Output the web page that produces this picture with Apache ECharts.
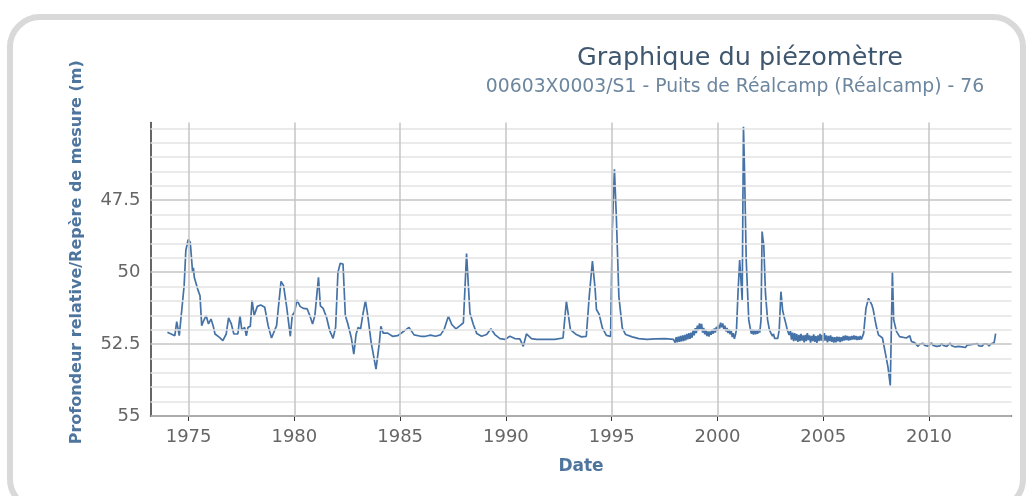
<!DOCTYPE html>
<html>
<head>
<meta charset="utf-8">
<script src="https://cdn.jsdelivr.net/npm/echarts@6/dist/echarts.min.js"></script>
<style>
  html, body { margin: 0; padding: 0; background: #fff; }
  #chart { width: 1033px; height: 496px; }
</style>
</head>
<body>
<div id="chart"></div>
<script>
// graduations des axes
const anneesGraduees = [1975, 1980, 1985, 1990, 1995, 2000, 2005, 2010]
const niveauxGradues = [47.5, 50, 52.5, 55]
const lignesMineures = [45, 45.5, 46, 46.5, 47, 48, 48.5, 49, 49.5, 50.5, 51, 51.5, 52, 53, 53.5, 54, 54.5]
const lignesMajeures = [47.5, 50, 52.5, 55]

// mesures [année décimale, profondeur (m)]
const mesures1974_1997 = [
  [1974.0, 52.09], [1974.35, 52.21], [1974.44, 51.72], [1974.56, 52.21], [1974.63, 52.23], [1974.79, 50.47],
  [1974.87, 49.25], [1974.98, 48.87], [1975.08, 48.96], [1975.19, 50.01], [1975.23, 49.85], [1975.27, 50.18],
  [1975.43, 50.59], [1975.54, 50.82], [1975.62, 51.86], [1975.71, 51.69], [1975.83, 51.51], [1975.94, 51.8],
  [1976.06, 51.63], [1976.16, 51.86], [1976.25, 52.15], [1976.46, 52.27], [1976.62, 52.38], [1976.78, 52.15],
  [1976.89, 51.59], [1977.02, 51.8], [1977.14, 52.15], [1977.33, 52.15], [1977.43, 51.51], [1977.52, 52.03],
  [1977.65, 51.92], [1977.73, 52.21], [1977.81, 51.92], [1977.92, 51.88], [1978.0, 50.97], [1978.1, 51.51],
  [1978.25, 51.19], [1978.41, 51.14], [1978.6, 51.22], [1978.76, 51.86], [1978.92, 52.29], [1979.16, 51.86],
  [1979.37, 50.32], [1979.49, 50.47], [1979.63, 51.17], [1979.81, 52.23], [1979.9, 51.51], [1980.0, 51.4],
  [1980.13, 50.97], [1980.27, 51.19], [1980.42, 51.26], [1980.61, 51.28], [1980.73, 51.51], [1980.86, 51.8],
  [1980.97, 51.51], [1981.14, 50.18], [1981.23, 51.17], [1981.36, 51.26], [1981.52, 51.57], [1981.67, 52.03],
  [1981.83, 52.3], [1981.95, 51.92], [1982.06, 50.01], [1982.17, 49.69], [1982.3, 49.72], [1982.41, 51.51],
  [1982.53, 51.8], [1982.69, 52.27], [1982.81, 52.85], [1982.92, 52.15], [1983.02, 51.92], [1983.13, 51.98],
  [1983.23, 51.51], [1983.36, 50.99], [1983.47, 51.51], [1983.63, 52.44], [1983.86, 53.37], [1984.02, 52.44],
  [1984.09, 51.88], [1984.2, 52.12], [1984.41, 52.12], [1984.64, 52.23], [1984.88, 52.21], [1985.11, 52.09],
  [1985.42, 51.92], [1985.66, 52.18], [1985.97, 52.23], [1986.2, 52.23], [1986.44, 52.19], [1986.67, 52.23],
  [1986.91, 52.18], [1987.08, 51.99], [1987.28, 51.53], [1987.44, 51.82], [1987.64, 51.97], [1987.83, 51.86],
  [1987.99, 51.76], [1988.14, 49.35], [1988.3, 51.42], [1988.46, 51.82], [1988.62, 52.13], [1988.85, 52.23],
  [1989.09, 52.17], [1989.29, 51.97], [1989.48, 52.17], [1989.72, 52.31], [1989.95, 52.34], [1990.19, 52.23],
  [1990.42, 52.31], [1990.66, 52.32], [1990.82, 52.58], [1990.97, 52.15], [1991.21, 52.31], [1991.45, 52.34],
  [1991.92, 52.34], [1992.31, 52.34], [1992.7, 52.29], [1992.86, 51.01], [1993.05, 52.0], [1993.33, 52.17],
  [1993.57, 52.25], [1993.8, 52.23], [1993.94, 50.84], [1994.09, 49.62], [1994.22, 50.61], [1994.28, 51.3],
  [1994.41, 51.47], [1994.56, 51.94], [1994.75, 52.2], [1994.95, 52.23], [1995.03, 48.52], [1995.13, 46.43],
  [1995.22, 48.06], [1995.34, 50.84], [1995.5, 51.94], [1995.66, 52.17], [1995.97, 52.25], [1996.28, 52.31],
  [1996.67, 52.34], [1997.06, 52.32], [1997.53, 52.31], [1997.92, 52.34]
]
const mesures1998_2003 = [
  [1997.95, 52.28], [1998.0, 52.45], [1998.05, 52.26], [1998.1, 52.44], [1998.15, 52.24], [1998.2, 52.42],
  [1998.25, 52.22], [1998.3, 52.41], [1998.35, 52.2], [1998.4, 52.4], [1998.45, 52.18], [1998.5, 52.37],
  [1998.55, 52.15], [1998.6, 52.34], [1998.65, 52.12], [1998.7, 52.32], [1998.75, 52.1], [1998.8, 52.28],
  [1998.85, 52.02], [1998.9, 52.2], [1998.95, 51.95], [1999.0, 52.12], [1999.05, 51.86], [1999.1, 52.02],
  [1999.15, 51.78], [1999.2, 51.98], [1999.25, 51.8], [1999.3, 52.1], [1999.35, 51.94], [1999.4, 52.16],
  [1999.45, 52.0], [1999.5, 52.22], [1999.55, 52.06], [1999.6, 52.24], [1999.65, 52.06], [1999.7, 52.18],
  [1999.75, 52.0], [1999.8, 52.14], [1999.85, 51.96], [1999.9, 52.1], [1999.95, 51.9], [2000.0, 52.04],
  [2000.05, 51.84], [2000.1, 51.96], [2000.15, 51.76], [2000.2, 51.92], [2000.25, 51.78], [2000.3, 51.98],
  [2000.35, 51.86], [2000.4, 52.06], [2000.45, 51.94], [2000.5, 52.12], [2000.55, 51.98], [2000.6, 52.16],
  [2000.65, 52.04], [2000.7, 52.26], [2000.75, 52.12], [2000.8, 52.32], [2000.85, 52.18], [2000.9, 52.0],
  [2000.97, 50.74], [2001.05, 49.58], [2001.13, 49.52], [2001.17, 50.97], [2001.23, 44.95], [2001.28, 46.45],
  [2001.36, 49.58], [2001.48, 51.66], [2001.55, 51.95], [2001.6, 52.14], [2001.65, 51.98], [2001.7, 52.17],
  [2001.75, 52.0], [2001.8, 52.16], [2001.85, 52.01], [2001.9, 52.14], [2001.95, 51.98], [2002.0, 52.1],
  [2002.06, 51.66], [2002.11, 48.59], [2002.16, 48.9], [2002.19, 49.06], [2002.27, 50.74], [2002.37, 51.66],
  [2002.45, 51.98], [2002.53, 52.13], [2002.6, 52.22], [2002.65, 52.15], [2002.7, 52.3], [2002.77, 52.25],
  [2002.85, 52.3], [2002.92, 52.01], [2003.0, 50.68], [2003.08, 51.32], [2003.15, 51.55], [2003.23, 51.78],
  [2003.3, 52.0], [2003.39, 52.18]
]
const mesures2003_2013 = [
  [2003.45, 52.05], [2003.5, 52.35], [2003.55, 52.1], [2003.6, 52.4], [2003.65, 52.12], [2003.7, 52.38],
  [2003.75, 52.15], [2003.8, 52.42], [2003.85, 52.18], [2003.9, 52.4], [2003.95, 52.15], [2004.0, 52.38],
  [2004.05, 52.2], [2004.1, 52.44], [2004.15, 52.18], [2004.2, 52.4], [2004.25, 52.12], [2004.3, 52.36],
  [2004.35, 52.2], [2004.4, 52.45], [2004.45, 52.22], [2004.5, 52.4], [2004.55, 52.16], [2004.6, 52.42],
  [2004.65, 52.22], [2004.7, 52.46], [2004.75, 52.2], [2004.8, 52.4], [2004.85, 52.15], [2004.9, 52.38],
  [2004.95, 52.18], [2005.0, 52.42], [2005.05, 52.12], [2005.1, 52.38], [2005.15, 52.2], [2005.2, 52.44],
  [2005.25, 52.22], [2005.3, 52.4], [2005.35, 52.2], [2005.4, 52.42], [2005.45, 52.25], [2005.5, 52.45],
  [2005.55, 52.26], [2005.6, 52.44], [2005.65, 52.24], [2005.7, 52.4], [2005.75, 52.25], [2005.8, 52.43],
  [2005.85, 52.26], [2005.9, 52.4], [2005.95, 52.22], [2006.0, 52.38], [2006.05, 52.2], [2006.1, 52.36],
  [2006.15, 52.22], [2006.2, 52.38], [2006.25, 52.24], [2006.3, 52.36], [2006.35, 52.22], [2006.4, 52.34],
  [2006.45, 52.2], [2006.5, 52.34], [2006.55, 52.22], [2006.6, 52.36], [2006.65, 52.24], [2006.7, 52.35],
  [2006.75, 52.22], [2006.8, 52.34], [2006.85, 52.25], [2006.91, 52.13], [2007.02, 51.26], [2007.14, 50.91],
  [2007.2, 50.95], [2007.3, 51.14], [2007.36, 51.29], [2007.45, 51.66], [2007.51, 51.88], [2007.61, 52.18],
  [2007.67, 52.18], [2007.8, 52.29], [2007.91, 52.71], [2008.06, 53.29], [2008.17, 53.94], [2008.27, 50.0],
  [2008.33, 51.65], [2008.46, 52.06], [2008.61, 52.24], [2008.93, 52.29], [2009.09, 52.21], [2009.17, 52.41],
  [2009.32, 52.45], [2009.4, 52.48], [2009.48, 52.58], [2009.56, 52.5], [2009.64, 52.56], [2009.72, 52.47],
  [2009.8, 52.55], [2009.88, 52.5], [2009.96, 52.57], [2010.04, 52.52], [2010.12, 52.46], [2010.2, 52.55],
  [2010.28, 52.5], [2010.36, 52.58], [2010.44, 52.52], [2010.52, 52.56], [2010.6, 52.48], [2010.68, 52.55],
  [2010.76, 52.5], [2010.84, 52.58], [2010.92, 52.53], [2011.0, 52.47], [2011.08, 52.56], [2011.16, 52.52],
  [2011.24, 52.6], [2011.32, 52.54], [2011.4, 52.58], [2011.48, 52.52], [2011.56, 52.6], [2011.64, 52.55],
  [2011.72, 52.62], [2011.8, 52.54], [2011.88, 52.6], [2011.96, 52.52], [2012.04, 52.56], [2012.12, 52.5],
  [2012.2, 52.55], [2012.28, 52.48], [2012.36, 52.56], [2012.44, 52.5], [2012.52, 52.57], [2012.6, 52.49],
  [2012.68, 52.55], [2012.76, 52.5], [2012.84, 52.57], [2012.92, 52.5], [2013.0, 52.54], [2013.08, 52.45],
  [2013.15, 52.14]
]

const mesures = mesures1974_1997.concat(mesures1998_2003, mesures2003_2013)

const police = "'DejaVu Sans', sans-serif"

const chart = echarts.init(document.getElementById('chart'))

// lignes horizontales de la grille (mineures claires, majeures plus foncées)
const lignesGrille = lignesMineures.map(v => ({ yAxis: v, lineStyle: { color: '#e3e3e3', width: 1.5, type: 'solid' } }))
  .concat(lignesMajeures.map(v => ({ yAxis: v, lineStyle: { color: '#c4c4c4', width: 1.5, type: 'solid' } })))

const option = {
  animation: false,
  backgroundColor: '#fff',
  title: [
    {
      text: 'Graphique du piézomètre',
      left: 735,
      top: 40,
      textAlign: 'center',
      textStyle: { fontFamily: police, fontSize: 25.5, fontWeight: 'normal', color: '#3E576F' }
    },
    {
      text: '00603X0003/S1 - Puits de Réalcamp (Réalcamp) - 76',
      left: 730,
      top: 73,
      textAlign: 'center',
      textStyle: { fontFamily: police, fontSize: 18.8, fontWeight: 'normal', color: '#6D869F' }
    }
  ],
  graphic: [
    {
      type: 'rect',
      silent: true,
      z: -10,
      shape: { x: 10, y: 17, width: 1013, height: 492, r: 30 },
      style: { fill: 'none', stroke: '#d9d9d9', lineWidth: 6 }
    }
  ],
  grid: {
    left: 150.5,
    right: 21.5,
    top: 122.5,
    bottom: 80,
    containLabel: false
  },
  xAxis: {
    type: 'value',
    min: 1973.2,
    max: 2013.9,
    name: 'Date',
    nameLocation: 'middle',
    nameGap: 42,
    nameTextStyle: { fontFamily: police, fontSize: 17, fontWeight: 'bold', color: '#4d759e' },
    axisLine: { lineStyle: { color: '#333', width: 1.5 } },
    axisTick: { show: true, length: 5, customValues: anneesGraduees, lineStyle: { color: '#333' } },
    axisLabel: {
      customValues: anneesGraduees,
      formatter: v => String(v),
      margin: 12,
      fontFamily: police,
      fontSize: 18,
      color: '#666'
    },
    splitLine: { show: false }
  },
  yAxis: {
    type: 'value',
    inverse: true,
    min: 44.8,
    max: 55,
    name: 'Profondeur relative/Repère de mesure (m)',
    nameLocation: 'middle',
    nameGap: 66,
    nameTextStyle: { fontFamily: police, fontSize: 16, fontWeight: 'bold', color: '#4d759e', padding: [0, 0, 0, 34] },
    axisLine: { show: true, lineStyle: { color: '#333', width: 1.5 } },
    axisTick: { show: false },
    axisLabel: {
      customValues: niveauxGradues,
      formatter: v => String(v),
      margin: 10,
      fontFamily: police,
      fontSize: 18,
      color: '#666'
    },
    splitLine: { show: false }
  },
  series: [
    {
      // grille verticale aux années graduées, grille horizontale aux niveaux
      type: 'line',
      data: [],
      z: 1,
      silent: true,
      markLine: {
        silent: true,
        symbol: ['none', 'none'],
        label: { show: false },
        data: lignesGrille.concat(anneesGraduees.map(a => ({ xAxis: a, lineStyle: { color: '#c4c4c4', width: 1.5, type: 'solid' } })))
      }
    },
    {
      name: 'Profondeur',
      type: 'line',
      data: mesures,
      z: 3,
      showSymbol: false,
      symbol: 'none',
      lineStyle: { color: '#4572A7', width: 1.7 }
    }
  ]
}

chart.setOption(option)
</script>
</body>
</html>
